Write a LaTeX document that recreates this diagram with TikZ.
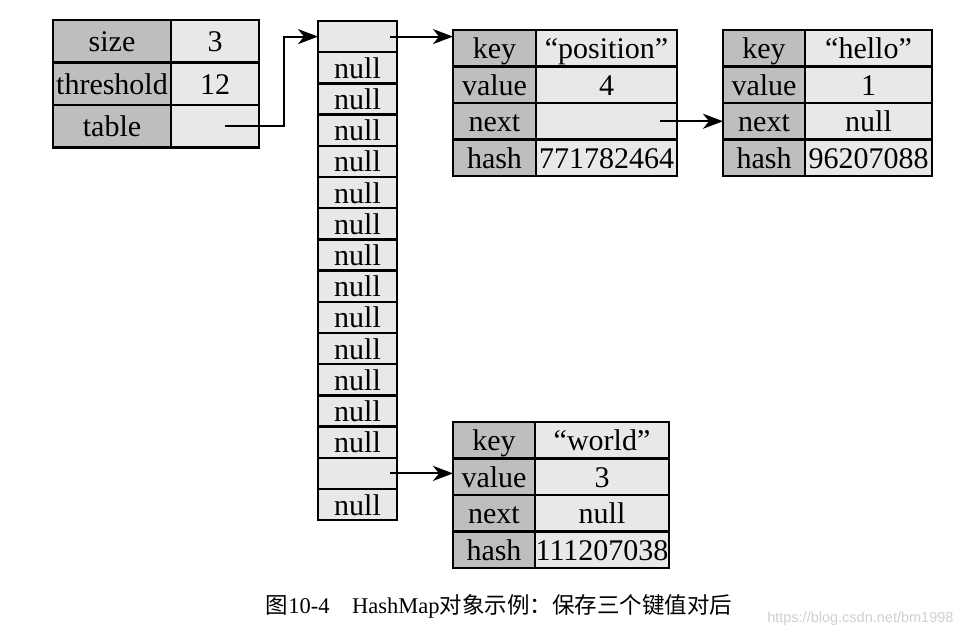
\documentclass[tikz,border=0pt]{standalone}
\usepackage{fontspec}
\setmainfont{Liberation Serif}
\newfontfamily\cjk{Noto Sans CJK SC}
\newfontfamily\markfont{Liberation Sans}
\usepackage{tikz}
\usetikzlibrary{positioning,arrows.meta}

\definecolor{keygray}{RGB}{190,190,190}
\definecolor{valgray}{RGB}{232,232,232}
\definecolor{markgray}{RGB}{208,208,208}

\tikzset{
  cell/.style={draw=black, line width=2.4pt, inner sep=0pt, outer sep=0pt, anchor=north west,
    minimum height=36.5pt, text height=23pt, text depth=2pt, font=\fontsize{30}{32}\selectfont},
  keycell/.style={cell, fill=keygray},
  valcell/.style={cell, fill=valgray},
  slot/.style={cell, fill=valgray, minimum width=79pt, minimum height=31.2pt},
  link/.style={line width=2pt, -{Stealth[length=20pt,width=15pt,inset=6pt]}}
}

\begin{document}
\begin{tikzpicture}[x=1pt, y=-1pt]
    \path[fill=white, use as bounding box] (0,0) rectangle (962,636);

    % HashMap fields
    \foreach \k/\v [count=\i] in {size/3, threshold/12, table/{}} {
        \node[keycell, minimum width=118pt, minimum height=42.5pt] (tk\i) at (53, {20+(\i-1)*42.5}) {\k};
        \node[valcell, minimum width=88pt, minimum height=42.5pt] (tv\i) at (171, {20+(\i-1)*42.5}) {\v};
    }

    % bucket array
    \node[slot] (slot0) at (318,21) {};
    \foreach \i [remember=\i as \j (initially 0)] in {1,...,15} {
        \node[slot, below=0pt of slot\j] (slot\i) {\ifnum\i=14 \else null\fi};
    }

    % entries
    \foreach \k/\v [count=\i] in {key/“position”, value/4, next/{}, hash/771782464} {
        \node[keycell, minimum width=83pt] (posk\i) at (453, {30+(\i-1)*36.5}) {\k};
        \node[valcell, minimum width=141pt] (posv\i) at (536, {30+(\i-1)*36.5}) {\v};
    }
    \foreach \k/\v [count=\i] in {key/“hello”, value/1, next/null, hash/96207088} {
        \node[keycell, minimum width=82pt] (helk\i) at (723, {30+(\i-1)*36.5}) {\k};
        \node[valcell, minimum width=127pt] (helv\i) at (805, {30+(\i-1)*36.5}) {\v};
    }
    \foreach \k/\v [count=\i] in {key/“world”, value/3, next/null, hash/111207038} {
        \node[keycell, minimum width=82pt] (wldk\i) at (453, {422+(\i-1)*36.5}) {\k};
        \node[valcell, minimum width=134pt] (wldv\i) at (535, {422+(\i-1)*36.5}) {\v};
    }

    % pointers
    \draw[link] ([xshift=10pt]tv3.center) -- ++(59,0) |- (slot0.west);
    \draw[link] ([xshift=-7pt]slot0.east) -- (slot0.east -| posk1.west);
    \draw[link] ([xshift=-17pt]posv3.east) -- (helk3.west);
    \draw[link] ([xshift=-7pt]slot14.east) -- (slot14.east -| wldk2.west);

    % caption
    \node[font=\fontsize{22.5}{26}\selectfont] (caption) at (499,606)
        {{\cjk 图}10-4\hspace{1em}HashMap{\cjk 对象示例：保存三个键值对后}};
    \node[font=\markfont\fontsize{14.5}{18}\selectfont, text=markgray, anchor=east] (mark) at (957,619)
        {https://blog.csdn.net/bm1998};
\end{tikzpicture}
\end{document}
